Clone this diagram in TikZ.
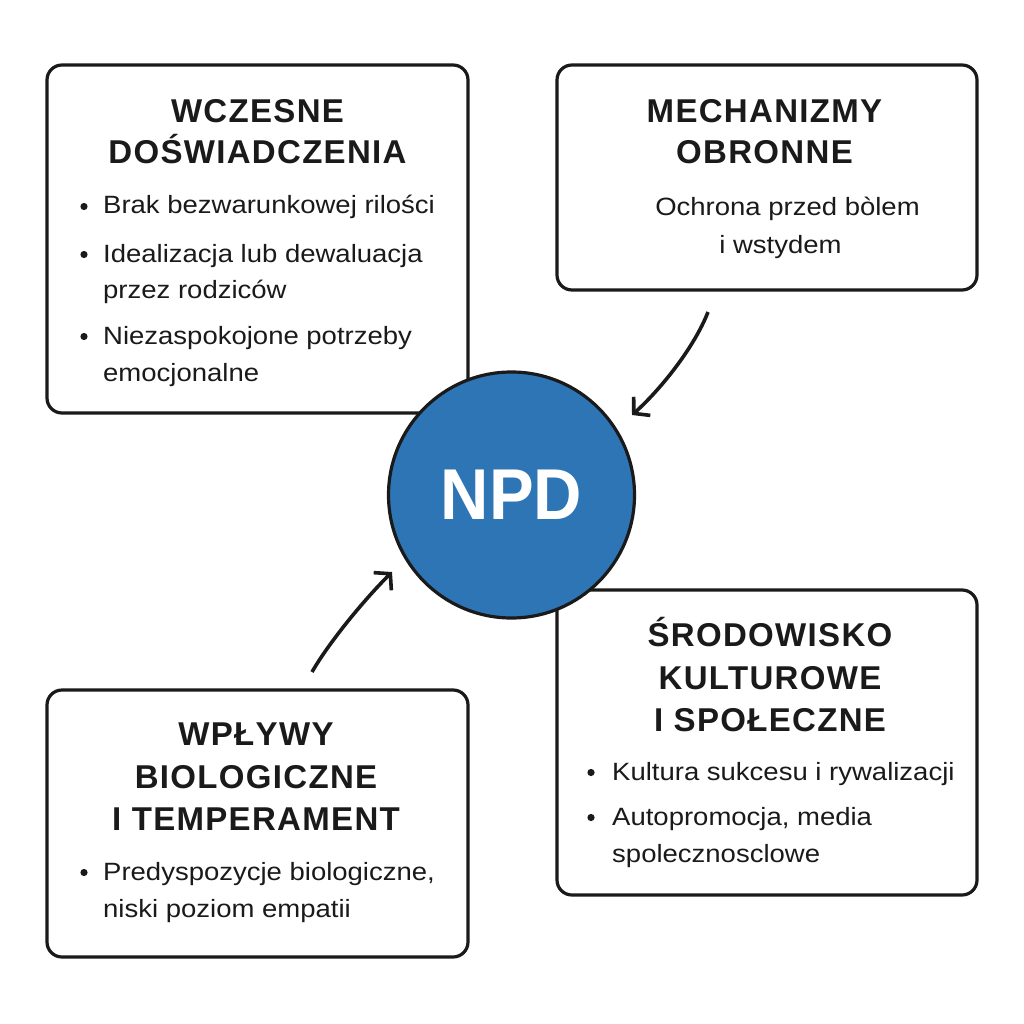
\documentclass[tikz,border=0pt]{standalone}
\usepackage{fontspec}
\setmainfont{Liberation Sans}[FakeStretch=1.1]
\newfontfamily\headfont{Liberation Sans}[LetterSpace=4]
\newfontfamily\npdfont{Liberation Sans}[FakeStretch=0.93]
\usetikzlibrary{arrows.meta}
\definecolor{npdblue}{HTML}{2E75B6}
\definecolor{ink}{HTML}{1A1A1A}
\begin{document}
\begin{tikzpicture}[x=1pt,y=-1pt,
  box/.style={draw=ink, line width=3.2pt, rounded corners=15pt, fill=white, inner sep=0pt},
  head/.style={anchor=base, inner sep=0pt, font=\headfont\bfseries\fontsize{33}{40}\selectfont, text=ink},
  body/.style={anchor=base west, inner sep=0pt, font=\fontsize{25}{30}\selectfont, text=ink},
  bodyc/.style={anchor=base, inner sep=0pt, font=\fontsize{25}{30}\selectfont, text=ink},
  conn/.style={draw=ink, line width=3.6pt, -{Straight Barb[length=11pt,width=25pt]}}
]
\fill[white] (0,0) rectangle (1024,1024);
\useasboundingbox (0,0) rectangle (1024,1024);

% boxes
\node[box, minimum width=421pt, minimum height=348pt] (tl) at (257.5,239) {};
\node[box, minimum width=420pt, minimum height=225pt] (tr) at (767,177.5) {};
\node[box, minimum width=420pt, minimum height=305pt] (br) at (767,742.5) {};
\node[box, minimum width=421pt, minimum height=267pt] (bl) at (257.5,823.5) {};

% centre circle
\node[circle, draw=ink, line width=3.2pt, fill=npdblue, minimum size=246pt, inner sep=0pt,
      text=white, font=\npdfont\bfseries\fontsize{72}{72}\selectfont] (npd) at (511.5,495) {NPD};

% top-left
\node[head] (tlh1) at (257.5,123) {WCZESNE};
\node[head] (tlh2) at (257.5,164) {DOŚWIADCZENIA};
\fill[ink] (84,206.5) circle (3.6pt);
\node[body] (tl1) at (103,214) {Brak bezwarunkowej rilości};
\fill[ink] (84,254.5) circle (3.6pt);
\node[body] (tl2) at (103,262) {Idealizacja lub dewaluacja};
\node[body] (tl3) at (103,298) {przez rodziców};
\fill[ink] (84,336.5) circle (3.6pt);
\node[body] (tl4) at (103,344) {Niezaspokojone potrzeby};
\node[body] (tl5) at (103,381) {emocjonalne};

% top-right
\node[head] (trh1) at (764.5,123) {MECHANIZMY};
\node[head] (trh2) at (764.5,164) {OBRONNE};
\node[bodyc] (tr1) at (787.5,215) {Ochrona przed bòlem};
\node[bodyc] (tr2) at (780.5,253) {i wstydem};

% bottom-right
\node[head] (brh1) at (770,646) {ŚRODOWISKO};
\node[head] (brh2) at (770,689) {KULTUROWE};
\node[head] (brh3) at (770,731) {I SPOŁECZNE};
\fill[ink] (591,772.5) circle (3.6pt);
\node[body] (br1) at (612,780) {Kultura sukcesu i rywalizacji};
\fill[ink] (591,817.5) circle (3.6pt);
\node[body] (br2) at (612,825) {Autopromocja, media};
\node[body] (br3) at (612,862) {spolecznosclowe};

% bottom-left
\node[head] (blh1) at (256,745) {WPŁYWY};
\node[head] (blh2) at (256,788) {BIOLOGICZNE};
\node[head] (blh3) at (256,830) {I TEMPERAMENT};
\fill[ink] (84,872.5) circle (3.6pt);
\node[body] (bl1) at (103,880) {Predyspozycje biologiczne,};
\node[body] (bl2) at (103,917) {niski poziom empatii};

% connectors
\coordinate (a1s) at (708,312);
\coordinate (a1e) at (632,415);
\draw[conn] (a1s) .. controls (694,348) and (660,390) .. (a1e);
\coordinate (a2s) at (312,672);
\coordinate (a2e) at (392,572);
\draw[conn] (a2s) .. controls (328,644) and (362,602) .. (a2e);
\end{tikzpicture}
\end{document}
